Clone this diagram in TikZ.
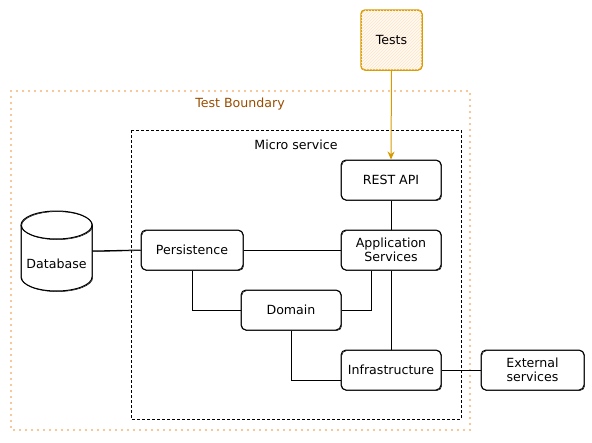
\documentclass[tikz,border=0pt]{standalone}
\usepackage{fontspec}
\setmainfont{DejaVu Sans}
\usetikzlibrary{patterns,arrows.meta}
\definecolor{testc}{HTML}{D79B00}
\definecolor{testfill}{HTML}{FFFAF3}
\definecolor{dotc}{HTML}{F2B47A}
\definecolor{labc}{HTML}{994C00}
\tikzset{
  sketch/.style={postaction={draw, line width=0.5pt, transform canvas={shift={(0.7pt,-0.6pt)}}}},
  box/.style={draw, rounded corners=5pt, line width=1pt, minimum width=100pt, minimum height=40pt,
    align=center, inner sep=0pt, fill=white, sketch},
  conn/.style={line width=1pt},
}
\begin{document}
\begin{tikzpicture}[x=1pt,y=-1pt,font=\fontsize{12.6}{14.5}\selectfont]
\useasboundingbox (0,0) rectangle (592,442);
% boundaries
\draw[dotc, line width=2.4pt, line cap=round, dash pattern=on 0pt off 6pt] (11,91) rectangle (470,430);
\node[text=labc] (tbl) at (240,104) {Test Boundary};
\draw[line width=0.8pt, dash pattern=on 3pt off 2pt] (131,130) rectangle (461,419);
\node (msl) at (296,145) {Micro service};
% nodes
\node[draw=testc, line width=1.5pt, rounded corners=4pt, minimum width=61pt, minimum height=60pt,
  fill=testfill, postaction={pattern=north east lines, pattern color=orange!22}] (tests) at (391.5,40) {Tests};
\node[box] (rest) at (391,180) {REST API};
\node[box] (app) at (391,250) {Application\\Services};
\node[box, minimum width=102pt] (pers) at (192,250) {Persistence};
\node[box] (dom) at (291,310) {Domain};
\node[box] (infra) at (391,370) {Infrastructure};
\node[box, minimum width=103pt] (ext) at (532.5,370) {External\\services};
% database cylinder
\draw[line width=1pt, fill=white, sketch] (21,225) -- (21,277) arc[start angle=180,end angle=360,x radius=35.5pt,y radius=14pt] -- (92,225);
\draw[line width=1pt, sketch] (56.5,225) ellipse [x radius=35.5pt, y radius=14pt];
\node[minimum width=71pt, minimum height=80pt, inner sep=0pt] (db) at (56.5,251) {};
\node (dbt) at (56.5,264) {Database};
% connectors
\draw[testc, line width=1pt, -{Stealth[length=8pt,width=7pt]}] (tests.south) -- (rest.north);
\draw[conn, sketch] (rest.south) -- (app.north);
\draw[conn, sketch] (db.east) -- (pers.west);
\draw[conn, sketch] (pers.east) -- (app.west);
\draw[conn, sketch] (pers.south) |- (dom.west);
\draw[conn, sketch] ([xshift=-20pt]app.south) |- (dom.east);
\draw[conn, sketch] (app.south) -- (infra.north);
\draw[conn, sketch] (dom.south) |- ([yshift=-10pt]infra.west);
\draw[conn, sketch] (infra.east) -- (ext.west);
\end{tikzpicture}
\end{document}
